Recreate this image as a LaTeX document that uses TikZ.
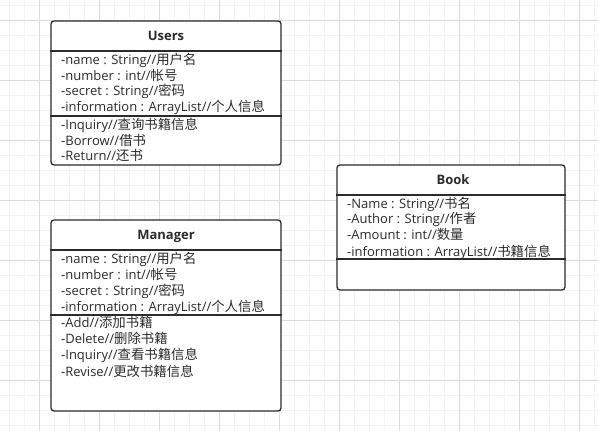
\documentclass[tikz,border=0pt]{standalone}
\usepackage{fontspec}
\setmainfont{Open Sans}
\newfontfamily\cjkfont{Noto Sans CJK SC}
\newcommand{\zh}[1]{{\cjkfont\fontsize{13.4}{14}\selectfont #1}}
\definecolor{ink}{HTML}{2B2B2B}
\definecolor{gridmajor}{HTML}{DCDCDC}
\definecolor{gridminor}{HTML}{F3F3F3}
\tikzset{
  cls/.style={draw=ink, line width=1.3pt, rounded corners=3pt, fill=white, inner sep=0pt},
  sep/.style={draw=ink, line width=1.3pt},
  txt/.style={anchor=base west, inner sep=0pt, text=ink, font=\fontsize{13}{14}\selectfont},
  ttl/.style={anchor=center, inner sep=0pt, text=ink, font=\fontsize{13}{14}\selectfont\bfseries},
}
\begin{document}
\begin{tikzpicture}[x=1pt,y=-1pt]
\useasboundingbox (0,0) rectangle (598,431);
\fill[white] (0,0) rectangle (598,431);
% grid
\foreach \gx in {9,24,...,598} \draw[gridminor, line width=0.6pt] (\gx,0) -- (\gx,431);
\foreach \gy in {5,20,...,431} \draw[gridminor, line width=0.6pt] (0,\gy) -- (598,\gy);
\foreach \gx in {39,99,...,598} \draw[gridmajor, line width=0.6pt] (\gx,0) -- (\gx,431);
\foreach \gy in {20,80,...,431} \draw[gridmajor, line width=0.6pt] (0,\gy) -- (598,\gy);

% Users
\node[cls, minimum width=230pt, minimum height=144pt] (users) at (166,93) {};
\coordinate (uh) at (0,51);
\coordinate (us) at (0,116);
\draw[sep] (users.west |- uh) -- (users.east |- uh);
\draw[sep] (users.west |- us) -- (users.east |- us);
\node[ttl] (usersT) at (166,36) {Users};
\node[txt] (u1) at (61,64.5) {-name : String//\zh{用户名}};
\node[txt] (u2) at (61,80) {-number : int//\zh{帐号}};
\node[txt] (u3) at (61,95.5) {-secret : String//\zh{密码}};
\node[txt] (u4) at (61,111.5) {-information : ArrayList//\zh{个人信息}};
\node[txt] (u5) at (61,129.5) {-Inquiry//\zh{查询书籍信息}};
\node[txt] (u6) at (61,145) {-Borrow//\zh{借书}};
\node[txt] (u7) at (61,160.5) {-Return//\zh{还书}};

% Manager
\node[cls, minimum width=230pt, minimum height=191pt] (mgr) at (166,315.5) {};
\coordinate (mh) at (0,250);
\coordinate (ms) at (0,315);
\draw[sep] (mgr.west |- mh) -- (mgr.east |- mh);
\draw[sep] (mgr.west |- ms) -- (mgr.east |- ms);
\node[ttl] (mgrT) at (166,236) {Manager};
\node[txt] (m1) at (61,263.5) {-name : String//\zh{用户名}};
\node[txt] (m2) at (61,279) {-number : int//\zh{帐号}};
\node[txt] (m3) at (61,295) {-secret : String//\zh{密码}};
\node[txt] (m4) at (61,311) {-information : ArrayList//\zh{个人信息}};
\node[txt] (m5) at (61,327.5) {-Add//\zh{添加书籍}};
\node[txt] (m6) at (61,343.5) {-Delete//\zh{删除书籍}};
\node[txt] (m7) at (61,359.5) {-Inquiry//\zh{查看书籍信息}};
\node[txt] (m8) at (61,376) {-Revise//\zh{更改书籍信息}};

% Book
\node[cls, minimum width=228pt, minimum height=125pt] (book) at (451,227.5) {};
\coordinate (bh) at (0,195);
\coordinate (bs) at (0,259);
\draw[sep] (book.west |- bh) -- (book.east |- bh);
\draw[sep] (book.west |- bs) -- (book.east |- bs);
\node[ttl] (bookT) at (453,180) {Book};
\node[txt] (b1) at (347,208.5) {-Name : String//\zh{书名}};
\node[txt] (b2) at (347,223.5) {-Author : String//\zh{作者}};
\node[txt] (b3) at (347,239.5) {-Amount : int//\zh{数量}};
\node[txt] (b4) at (347,256) {-information : ArrayList//\zh{书籍信息}};
\end{tikzpicture}
\end{document}
